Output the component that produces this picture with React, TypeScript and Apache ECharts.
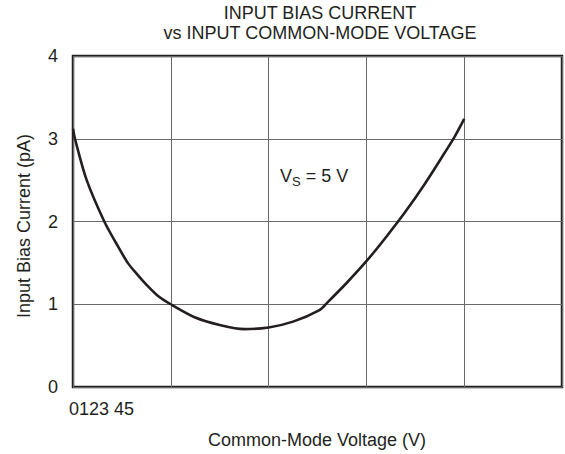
import React, { useEffect, useRef } from "react";
import * as echarts from "echarts";

const curveX = [0, 0.02, 0.14, 0.32, 0.44, 0.56, 0.65, 0.74, 0.86, 1.0, 1.25, 1.5, 1.75, 2.0, 2.25, 2.52, 2.6, 2.8, 3.0, 3.2, 3.4, 3.6, 3.8, 3.9, 4.0];
const curveY = [3.12, 3.0, 2.5, 2.0, 1.74, 1.5, 1.37, 1.25, 1.11, 1.0, 0.84, 0.75, 0.7, 0.72, 0.79, 0.93, 1.02, 1.26, 1.52, 1.81, 2.12, 2.46, 2.83, 3.02, 3.24];
const xTickLabels = ["0", "1", "2", "3", "4", "5"];
const yTicks = [0, 1, 2, 3, 4];

const FONT = "'Liberation Sans', Arial, Helvetica, sans-serif";
const INK = "#231f20";

export default function App() {
  const ref = useRef<HTMLDivElement>(null);
  useEffect(() => {
    if (!ref.current) return;
    const chart = echarts.init(ref.current, undefined, { renderer: "svg" });
    const data = curveX.map((x, i) => [x, curveY[i]]);
    chart.setOption({
      animation: false,
      backgroundColor: "#ffffff",
      title: {
        text: "INPUT BIAS CURRENT\nvs INPUT COMMON-MODE VOLTAGE",
        left: 320,
        top: 3,
        padding: 0,
        textAlign: "center",
        textStyle: { fontFamily: FONT, fontSize: 18, fontWeight: "normal", color: INK, lineHeight: 20 },
      },
      grid: { left: 73, right: 3, top: 56, bottom: 67, show: true, borderColor: INK, borderWidth: 2.5, backgroundColor: "transparent" },
      xAxis: {
        type: "value",
        min: 0,
        max: 5,
        interval: 1,
        axisLine: { show: false },
        axisTick: { show: false },
        axisLabel: { show: false },
        splitLine: { show: true, lineStyle: { color: "#6a6a6a", width: 1 } },
      },
      yAxis: {
        type: "value",
        min: yTicks[0],
        max: yTicks[yTicks.length - 1],
        interval: 1,
        axisLine: { show: false },
        axisTick: { show: false },
        axisLabel: { fontFamily: FONT, fontSize: 18, color: INK, margin: 15 },
        splitLine: { show: true, lineStyle: { color: "#6a6a6a", width: 1 } },
      },
      graphic: [
        {
          type: "text",
          x: 69,
          y: 409,
          style: {
            text: xTickLabels.slice(0, 4).join("") + " " + xTickLabels.slice(4).join(""),
            font: `18px ${FONT}`,
            fill: INK,
            textAlign: "left",
            textVerticalAlign: "middle",
          },
        },
        {
          type: "text",
          x: 317,
          y: 440,
          style: {
            text: "Common-Mode Voltage (V)",
            font: `18px ${FONT}`,
            fill: INK,
            textAlign: "center",
            textVerticalAlign: "middle",
          },
        },
        {
          type: "text",
          x: 24,
          y: 226,
          rotation: Math.PI / 2,
          style: {
            text: "Input Bias Current (pA)",
            font: `18px ${FONT}`,
            fill: INK,
            textAlign: "center",
            textVerticalAlign: "middle",
          },
        },
        {
          type: "text",
          x: 280,
          y: 176,
          style: {
            text: "{a|V}{s|S}{a| = 5 V}",
            textVerticalAlign: "middle",
            rich: {
              a: { fontFamily: FONT, fontSize: 18, color: INK, fill: INK },
              s: { fontFamily: FONT, fontSize: 13, color: INK, fill: INK, padding: [10, 0, 0, 0] },
            },
          },
        },
      ],
      series: [
        {
          type: "line",
          data,
          smooth: 0.3,
          showSymbol: false,
          lineStyle: { color: INK, width: 2.6 },
        },
      ],
    });
    return () => chart.dispose();
  }, []);
  return <div ref={ref} style={{ position: "fixed", left: 0, top: 0, width: 565, height: 454 }} />;
}
